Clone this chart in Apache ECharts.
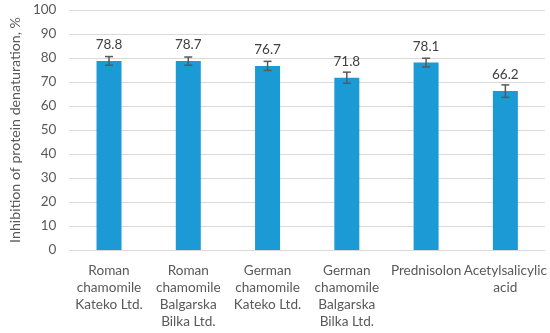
<!DOCTYPE html>
<html><head><meta charset="utf-8">
<script src="https://cdn.jsdelivr.net/npm/echarts@6/dist/echarts.min.js"></script>
<style>html,body{margin:0;padding:0;background:#fff}#c{width:550px;height:333px}</style>
</head><body><div id="c"></div>
<script>
var categories = ['Roman\nchamomile\nKateko Ltd.', 'Roman\nchamomile\nBalgarska\nBilka Ltd.', 'German\nchamomile\nKateko Ltd.', 'German\nchamomile\nBalgarska\nBilka Ltd.', 'Prednisolon', 'Acetylsalicylic\nacid'];
var values = [78.8, 78.7, 76.7, 71.8, 78.1, 66.2];
var errors = [1.8, 1.7, 1.9, 2.3, 1.8, 2.6];
var yTicks = [0, 10, 20, 30, 40, 50, 60, 70, 80, 90, 100];

var font = 'Lato, "Open Sans", sans-serif';
var chart = echarts.init(document.getElementById('c'), null, {renderer: 'canvas'});
chart.setOption({
  animation: false,
  grid: {left: 60, right: 5, top: 10, bottom: 83, containLabel: false},
  xAxis: {
    type: 'category', data: categories,
    axisTick: {show: false},
    axisLine: {lineStyle: {color: '#d9d9d9', width: 1}},
    axisLabel: {color: '#595959', fontSize: 13.6, fontFamily: font, lineHeight: 17, margin: 12, interval: 0}
  },
  yAxis: {
    type: 'value', min: yTicks[0], max: yTicks[yTicks.length - 1], interval: 10,
    name: 'Inhibition of protein denaturation, %', nameLocation: 'middle', nameGap: 43,
    nameTextStyle: {color: '#595959', fontSize: 14.2, fontFamily: font},
    axisLine: {show: false}, axisTick: {show: false},
    axisLabel: {color: '#595959', fontSize: 13.5, fontFamily: font, margin: 13},
    splitLine: {lineStyle: {color: '#d9d9d9', width: 1}}
  },
  series: [{
    type: 'bar', data: values, barWidth: 25,
    itemStyle: {color: '#1b9ad6'},
    label: {show: true, position: 'top', distance: 9, color: '#404040', fontSize: 13.5, fontFamily: font,
      formatter: function (p) { return p.value.toFixed(1); }}
  }, {
    type: 'custom',
    data: values.map(function (v, i) { return [i, v - errors[i], v + errors[i]]; }),
    renderItem: function (params, api) {
      var lo = api.coord([api.value(0), api.value(1)]);
      var hi = api.coord([api.value(0), api.value(2)]);
      var hw = 4;
      var st = {stroke: '#595959', lineWidth: 1.5};
      return {type: 'group', children: [
        {type: 'line', shape: {x1: lo[0], y1: lo[1], x2: hi[0], y2: hi[1]}, style: st},
        {type: 'line', shape: {x1: lo[0] - hw, y1: lo[1], x2: lo[0] + hw, y2: lo[1]}, style: st},
        {type: 'line', shape: {x1: hi[0] - hw, y1: hi[1], x2: hi[0] + hw, y2: hi[1]}, style: st}
      ]};
    },
    z: 5
  }]
});
</script></body></html>
